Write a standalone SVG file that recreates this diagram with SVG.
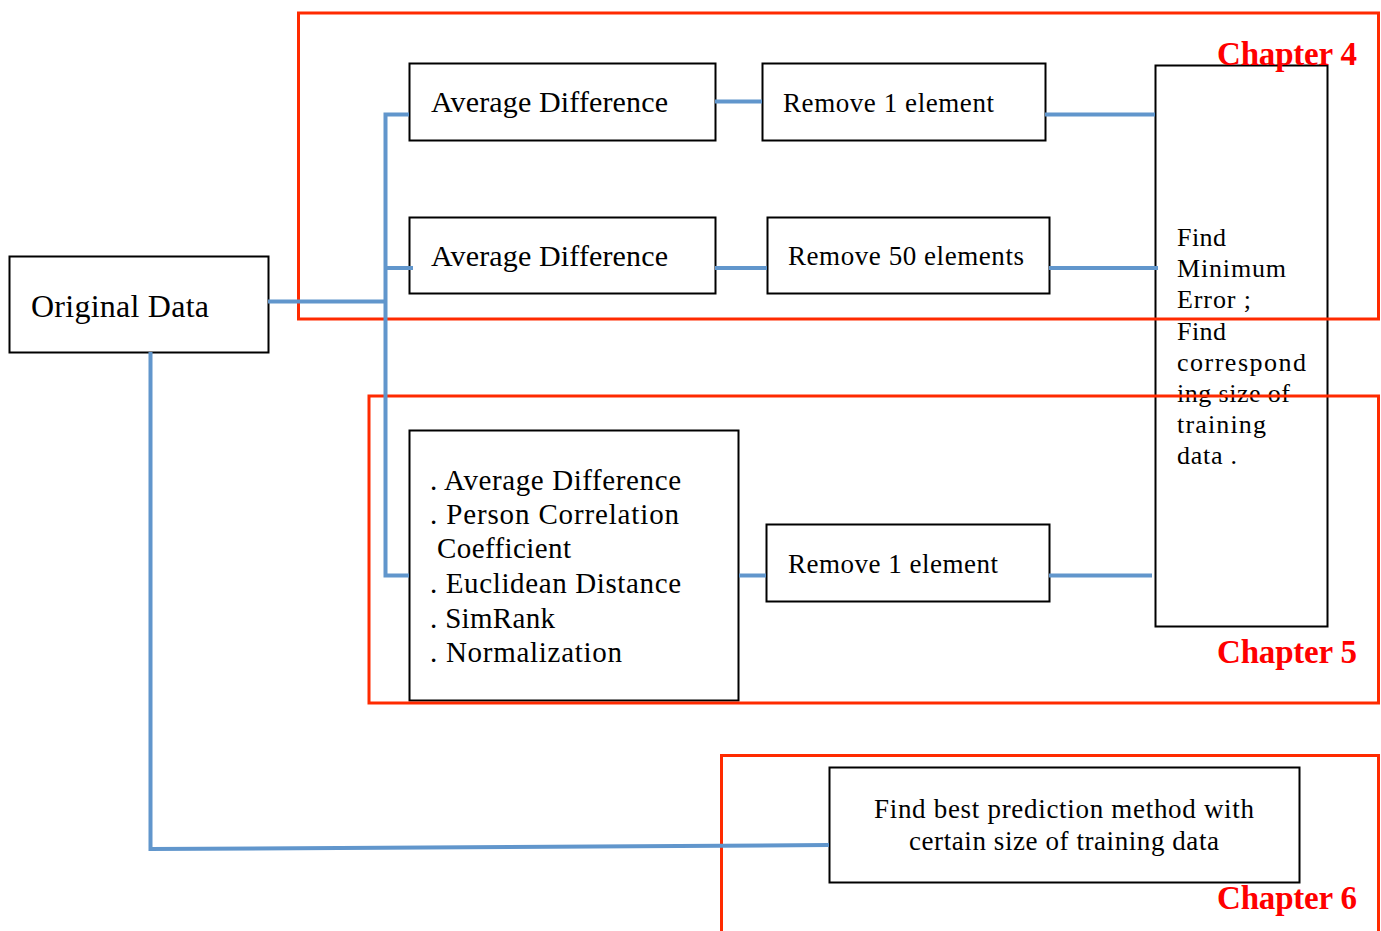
<svg xmlns="http://www.w3.org/2000/svg" width="1381" height="931" viewBox="0 0 1381 931">
<style>
.box{fill:#fff;stroke:#000;stroke-width:2}
.t{font-family:"Liberation Serif","DejaVu Serif",serif;fill:#000}
.frame{fill:none;stroke:#ff2a00;stroke-width:3}
.ch{font-family:"Liberation Serif","DejaVu Serif",serif;font-weight:bold;font-size:33px;fill:#ff0000}
.c{fill:none;stroke:#6196cc;stroke-width:4}
</style>
<rect width="1381" height="931" fill="#fff"/>
<g id="original">
<rect class="box" x="9.5" y="256.5" width="259" height="96"/>
<text class="t" x="31" y="317" font-size="32" textLength="178">Original Data</text>
</g>
<g id="avg1">
<rect class="box" x="409.5" y="63.5" width="306" height="77"/>
<text class="t" x="431" y="112" font-size="30" textLength="237">Average Difference</text>
</g>
<g id="avg2">
<rect class="box" x="409.5" y="217.5" width="306" height="76"/>
<text class="t" x="431" y="266" font-size="30" textLength="237">Average Difference</text>
</g>
<g id="remove1">
<rect class="box" x="762.5" y="63.5" width="283" height="77"/>
<text class="t" x="783" y="112" font-size="27" textLength="211">Remove 1 element</text>
</g>
<g id="remove50">
<rect class="box" x="767.5" y="217.5" width="282" height="76"/>
<text class="t" x="788" y="265" font-size="27" textLength="236">Remove 50 elements</text>
</g>
<g id="methods">
<rect class="box" x="409.5" y="430.5" width="329" height="270"/>
<g class="t" font-size="29">
<text x="430" y="490" textLength="251">. Average Difference</text>
<text x="430" y="524" textLength="249">. Person Correlation</text>
<text x="437" y="558" textLength="134">Coefficient</text>
<text x="430" y="593" textLength="251">. Euclidean Distance</text>
<text x="430" y="628" textLength="125">. SimRank</text>
<text x="430" y="662" textLength="192">. Normalization</text>
</g>
</g>
<g id="remove1b">
<rect class="box" x="766.5" y="524.5" width="283" height="77"/>
<text class="t" x="788" y="573" font-size="27" textLength="210">Remove 1 element</text>
</g>
<g id="findmin">
<rect class="box" x="1155.5" y="65.5" width="172" height="561"/>
<g class="t" font-size="26">
<text x="1177" y="246" textLength="49">Find</text>
<text x="1177" y="277" textLength="109">Minimum</text>
<text x="1177" y="308" textLength="74">Error ;</text>
<text x="1177" y="340" textLength="49">Find</text>
<text x="1177" y="371" textLength="129">correspond</text>
<text x="1177" y="402" textLength="113">ing size of</text>
<text x="1177" y="433" textLength="89">training</text>
<text x="1177" y="464" textLength="60">data .</text>
</g>
</g>
<g id="findbest">
<rect class="box" x="829.5" y="767.5" width="470" height="115"/>
<g class="t" font-size="27" text-anchor="middle">
<text x="1064" y="818" textLength="380">Find best prediction method with</text>
<text x="1064" y="850" textLength="310">certain size of training data</text>
</g>
</g>
<g id="chapter4">
<rect class="frame" x="298.5" y="13" width="1080" height="306"/>
<text class="ch" x="1217" y="65" textLength="140">Chapter 4</text>
</g>
<g id="chapter5">
<rect class="frame" x="369" y="396" width="1009.5" height="307"/>
<text class="ch" x="1217" y="663" textLength="140">Chapter 5</text>
</g>
<g id="chapter6">
<path class="frame" d="M721.5 940 V755.5 H1378.5 V940"/>
<text class="ch" x="1217" y="909" textLength="140">Chapter 6</text>
</g>
<g id="connectors">
<path class="c" d="M268 301.5 H385.5"/>
<path class="c" d="M409 114.5 H385.5 V575.5 H409"/>
<path class="c" d="M385.5 268 H413"/>
<path class="c" d="M715 101.5 H762"/>
<path class="c" d="M715 268 H767"/>
<path class="c" d="M1045 114.5 H1155"/>
<path class="c" d="M1049 268 H1158"/>
<path class="c" d="M739 575.5 H766"/>
<path class="c" d="M1049 575.5 H1152"/>
<path class="c" d="M150.5 352 V849 L829 845"/>
</g>
</svg>
